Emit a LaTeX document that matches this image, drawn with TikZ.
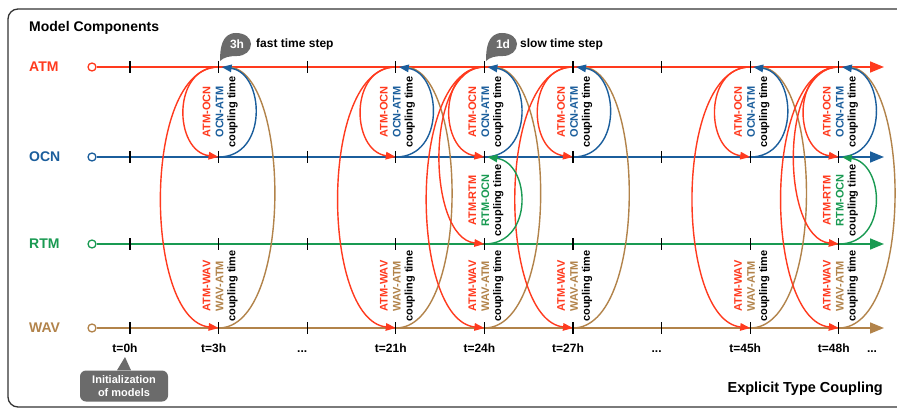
\documentclass[tikz,border=0pt]{standalone}
\usepackage{fontspec}
\setmainfont{Liberation Sans}
\usetikzlibrary{arrows.meta,calc}
\definecolor{atm}{HTML}{FF3A1E}
\definecolor{ocn}{HTML}{1B5E9C}
\definecolor{rtm}{HTML}{199A52}
\definecolor{wav}{HTML}{B2834A}
\definecolor{callg}{HTML}{6B6B6B}
\newcommand{\threedots}{...}
\begin{document}
\begin{tikzpicture}[x=1pt,y=-1pt,
  lbl/.style={font=\bfseries\fontsize{14}{16}\selectfont, inner sep=0pt, anchor=west},
  cpl/.style={rotate=90, inner sep=0pt, font=\bfseries\fontsize{11}{12}\selectfont},
  tlab/.style={font=\bfseries\fontsize{12}{14}\selectfont, inner sep=0pt, anchor=base},
  mainline/.style={line width=1.6pt, -{Triangle[length=14pt,width=11pt]}},
  cloop/.style={line width=1.4pt},
  tipd/.style={-{Triangle[length=10pt,width=7.5pt]}},
  tickmark/.style={line width=1.3pt, black},
  startc/.style={circle, draw, line width=1.3pt, fill=white, minimum size=8pt, inner sep=0pt},
]
\useasboundingbox (0,0) rectangle (897,409);
\fill[white] (0,0) rectangle (897,409);
\begin{scope}
\clip (0,0) rectangle (897,409);
\draw[line width=1.3pt, black!80, rounded corners=10pt] (8,9) rectangle (930,407);
\end{scope}

% tick coordinates
\foreach \i in {0,...,8}{
  \pgfmathsetmacro\xx{130+88.6*\i}
  \coordinate (A\i) at (\xx,67);
  \coordinate (O\i) at (\xx,157);
  \coordinate (R\i) at (\xx,244);
  \coordinate (W\i) at (\xx,328);
}
\coordinate (Ae) at (884,67);
\coordinate (Oe) at (884,157);
\coordinate (Re) at (884,244);
\coordinate (We) at (884,328);

% model labels
\node[lbl] (title) at (29,28) {Model Components};
\node[lbl, text=atm] (LA) at (29,67) {ATM};
\node[lbl, text=ocn] (LO) at (29,157) {OCN};
\node[lbl, text=rtm] (LR) at (29,244) {RTM};
\node[lbl, text=wav] (LW) at (29,328) {WAV};

% start circles and main lines
\node[startc, draw=atm] (As) at (92,67) {};
\node[startc, draw=ocn] (Os) at (92,157) {};
\node[startc, draw=rtm] (Rs) at (92,244) {};
\node[startc, draw=wav] (Ws) at (92,328) {};
\draw[mainline, atm] (As) -- (Ae);
\draw[mainline, ocn] (Os) -- (Oe);
\draw[mainline, rtm] (Rs) -- (Re);
\draw[mainline, wav] (Ws) -- (We);

% coupling loops
\foreach \i in {1,3,4,5,7,8}{
  \draw[cloop, wav] (W\i) .. controls ([xshift=75pt]W\i) and ([xshift=72pt]A\i) .. ([xshift=9pt]A\i);
  \draw[cloop, atm, tipd] (A\i) .. controls ([xshift=-77pt]A\i) and ([xshift=-75pt,yshift=8pt]W\i) .. (W\i);
  \draw[cloop, atm, tipd] (A\i) .. controls ([xshift=-47pt]A\i) and ([xshift=-45pt,yshift=6pt]O\i) .. (O\i);
  \draw[cloop, ocn, tipd] (O\i) .. controls ([xshift=50pt]O\i) and ([xshift=46pt,yshift=-6pt]A\i) .. ([xshift=3pt]A\i);
}
\foreach \i in {4,8}{
  \draw[cloop, atm, tipd] (A\i) .. controls ([xshift=-60pt]A\i) and ([xshift=-58pt,yshift=6pt]R\i) .. (R\i);
  \draw[cloop, rtm, tipd] (R\i) .. controls ([xshift=50pt]R\i) and ([xshift=46pt,yshift=-6pt]O\i) .. ([xshift=3pt]O\i);
}

% ticks
\foreach \i in {0,...,8}{
  \foreach \L in {A,O,R,W}{
    \draw[tickmark] ([yshift=6pt]\L\i) -- ([yshift=-6pt]\L\i);
  }
}

% coupling labels
\foreach \i in {1,3,4,5,7,8}{
  \coordinate (mAO\i) at ($(A\i)!.5!(O\i)$);
  \coordinate (mRW\i) at ($(R\i)!.5!(W\i)$);
  \node[cpl, text=atm] (tao\i) at ([xshift=-12pt]mAO\i) {ATM-OCN};
  \node[cpl, text=ocn] (toa\i) at ([xshift=1pt]mAO\i) {OCN-ATM};
  \node[cpl] (tca\i) at ([xshift=14pt]mAO\i) {coupling time};
  \node[cpl, text=atm] (taw\i) at ([xshift=-12pt]mRW\i) {ATM-WAV};
  \node[cpl, text=wav] (twa\i) at ([xshift=1pt]mRW\i) {WAV-ATM};
  \node[cpl] (tcw\i) at ([xshift=14pt]mRW\i) {coupling time};
}
\foreach \i in {4,8}{
  \coordinate (mOR\i) at ($(O\i)!.5!(R\i)$);
  \node[cpl, text=atm] (tar\i) at ([xshift=-12pt]mOR\i) {ATM-RTM};
  \node[cpl, text=rtm] (tro\i) at ([xshift=1pt]mOR\i) {RTM-OCN};
  \node[cpl] (tcr\i) at ([xshift=14pt]mOR\i) {coupling time};
}

% time labels
\foreach \i/\t in {0/t=0h,1/t=3h,2/\threedots,3/t=21h,4/t=24h,5/t=27h,6/\threedots,7/t=45h,8/t=48h}{
  \node[tlab] (tl\i) at ([xshift=-5pt,yshift=-24pt]W\i) {\t};
}
\node[tlab] (tlend) at (872,352) {\threedots};

% callouts
\fill[callg] (220,61) .. controls (220,50) and (221,33) .. (236,33) .. controls (245,33) and (251,38) .. (251,44) .. controls (251,51) and (245,56) .. (237,56) .. controls (230,56) and (224,57) .. (220,61) -- cycle;
\node[text=white, font=\bfseries\fontsize{12}{14}\selectfont, inner sep=0pt] (c3h) at (237,44) {3h};
\node[font=\bfseries\fontsize{12}{14}\selectfont, inner sep=0pt, anchor=base west] (fast) at (256,48) {fast time step};
\begin{scope}[xshift=266pt]
\fill[callg] (220,61) .. controls (220,50) and (221,33) .. (236,33) .. controls (245,33) and (251,38) .. (251,44) .. controls (251,51) and (245,56) .. (237,56) .. controls (230,56) and (224,57) .. (220,61) -- cycle;
\end{scope}
\node[text=white, font=\bfseries\fontsize{12}{14}\selectfont, inner sep=0pt] (c1d) at (503,44) {1d};
\node[font=\bfseries\fontsize{12}{14}\selectfont, inner sep=0pt, anchor=base west] (slow) at (520,48) {slow time step};

% initialization
\node[fill=callg, rounded corners=6pt, text=white, align=center, minimum width=88pt, minimum height=31pt, font=\bfseries\fontsize{11}{13}\selectfont, inner sep=1pt] (init) at (124,386) {Initialization\\of models};
\coordinate (initTip) at (125,357);
\fill[callg] ([xshift=-7pt]init.north) -- (initTip) -- ([xshift=7pt]init.north) -- cycle;

\node[font=\bfseries\fontsize{14.5}{16}\selectfont, inner sep=0pt, anchor=base east] (expl) at (883,392) {Explicit Type Coupling};
\end{tikzpicture}
\end{document}
